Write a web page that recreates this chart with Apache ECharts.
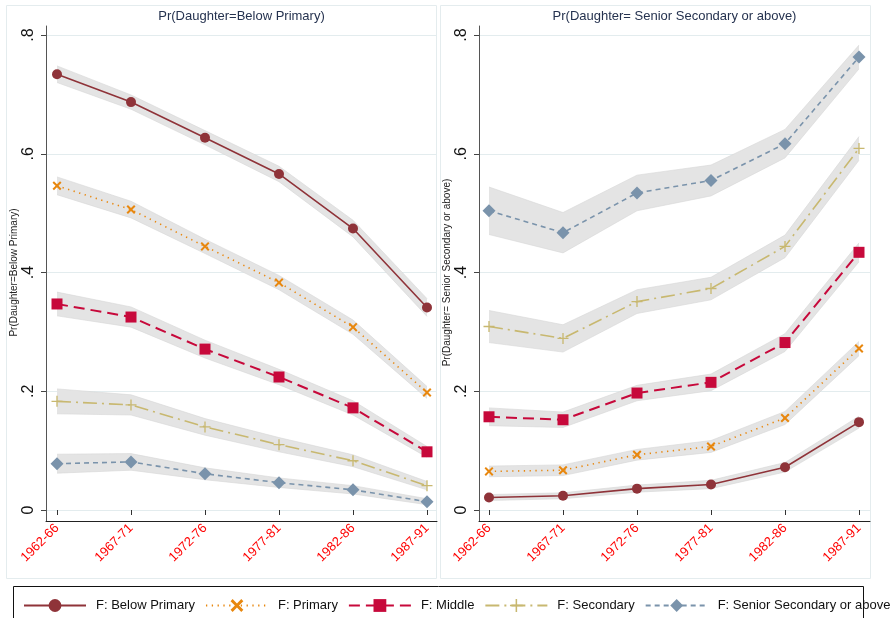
<!DOCTYPE html>
<html>
<head>
<meta charset="utf-8">
<title>Pr(Daughter) by cohort</title>
<script src="https://cdn.jsdelivr.net/npm/echarts@6/dist/echarts.min.js"></script>
<style>
  html, body { margin: 0; padding: 0; background: #ffffff; }
  #chart { width: 893px; height: 618px; }
</style>
</head>
<body>
<div id="chart"></div>
<script>
// Birth cohorts on the x axis and y tick labels
const periods = ['1962-66', '1967-71', '1972-76', '1977-81', '1982-86', '1987-91'];
const yTickLabels = ['0', '.2', '.4', '.6', '.8'];
const seriesNames = ['F: Below Primary', 'F: Primary', 'F: Middle', 'F: Secondary', 'F: Senior Secondary or above'];
const panelTitles = ['Pr(Daughter=Below Primary)', 'Pr(Daughter= Senior Secondary or above)'];

// Panel 1: Pr(Daughter=Below Primary), by father's education
const p1BelowPrimary   = [0.734, 0.687, 0.627, 0.566, 0.474, 0.341];
const p1BelowPrimaryLo = [0.720, 0.675, 0.615, 0.553, 0.460, 0.326];
const p1BelowPrimaryHi = [0.748, 0.699, 0.639, 0.579, 0.488, 0.356];
const p1Primary        = [0.546, 0.506, 0.444, 0.383, 0.308, 0.198];
const p1PrimaryLo      = [0.531, 0.492, 0.432, 0.371, 0.296, 0.188];
const p1PrimaryHi      = [0.561, 0.520, 0.456, 0.395, 0.320, 0.208];
const p1Middle         = [0.347, 0.325, 0.271, 0.224, 0.172, 0.098];
const p1MiddleLo       = [0.327, 0.308, 0.256, 0.211, 0.160, 0.089];
const p1MiddleHi       = [0.367, 0.342, 0.286, 0.237, 0.184, 0.107];
const p1Secondary      = [0.183, 0.177, 0.140, 0.110, 0.083, 0.041];
const p1SecondaryLo    = [0.162, 0.160, 0.126, 0.098, 0.073, 0.034];
const p1SecondaryHi    = [0.204, 0.194, 0.154, 0.122, 0.093, 0.048];
const p1Senior         = [0.078, 0.081, 0.061, 0.046, 0.034, 0.014];
const p1SeniorLo       = [0.062, 0.067, 0.051, 0.038, 0.027, 0.009];
const p1SeniorHi       = [0.094, 0.095, 0.071, 0.054, 0.041, 0.019];

// Panel 2: Pr(Daughter= Senior Secondary or above), by father's education
const p2BelowPrimary   = [0.021, 0.024, 0.036, 0.043, 0.072, 0.148];
const p2BelowPrimaryLo = [0.016, 0.019, 0.030, 0.036, 0.064, 0.138];
const p2BelowPrimaryHi = [0.026, 0.029, 0.042, 0.050, 0.080, 0.158];
const p2Primary        = [0.065, 0.067, 0.093, 0.107, 0.155, 0.272];
const p2PrimaryLo      = [0.056, 0.058, 0.084, 0.097, 0.144, 0.260];
const p2PrimaryHi      = [0.074, 0.076, 0.102, 0.117, 0.166, 0.284];
const p2Middle         = [0.157, 0.152, 0.197, 0.215, 0.282, 0.434];
const p2MiddleLo       = [0.142, 0.139, 0.184, 0.201, 0.267, 0.418];
const p2MiddleHi       = [0.172, 0.165, 0.210, 0.229, 0.297, 0.450];
const p2Secondary      = [0.309, 0.289, 0.351, 0.373, 0.444, 0.609];
const p2SecondaryLo    = [0.282, 0.266, 0.331, 0.354, 0.425, 0.589];
const p2SecondaryHi    = [0.336, 0.312, 0.371, 0.392, 0.463, 0.629];
const p2Senior         = [0.504, 0.467, 0.534, 0.555, 0.617, 0.763];
const p2SeniorLo       = [0.464, 0.433, 0.504, 0.529, 0.593, 0.743];
const p2SeniorHi       = [0.544, 0.501, 0.564, 0.581, 0.641, 0.783];

const panels = [
  { values: [p1BelowPrimary, p1Primary, p1Middle, p1Secondary, p1Senior],
    lo:     [p1BelowPrimaryLo, p1PrimaryLo, p1MiddleLo, p1SecondaryLo, p1SeniorLo],
    hi:     [p1BelowPrimaryHi, p1PrimaryHi, p1MiddleHi, p1SecondaryHi, p1SeniorHi] },
  { values: [p2BelowPrimary, p2Primary, p2Middle, p2Secondary, p2Senior],
    lo:     [p2BelowPrimaryLo, p2PrimaryLo, p2MiddleLo, p2SecondaryLo, p2SeniorLo],
    hi:     [p2BelowPrimaryHi, p2PrimaryHi, p2MiddleHi, p2SecondaryHi, p2SeniorHi] }
];

const FONT = '"Liberation Sans", Arial, Helvetica, sans-serif';

// Marker shapes
const X_PATH = 'path://M0,1.6 L1.6,0 L5,3.4 L8.4,0 L10,1.6 L6.6,5 L10,8.4 L8.4,10 L5,6.6 L1.6,10 L0,8.4 L3.4,5 Z';
const PLUS_PATH = 'path://M4.4,0 H5.6 V4.4 H10 V5.6 H5.6 V10 H4.4 V5.6 H0 V4.4 H4.4 Z';
const DIAMOND_PATH = 'path://M0,-1 L1,0 L0,1 L-1,0 Z';

const styles = [
  { color: '#8f3339', type: 'solid',        width: 1.6, symbol: 'circle',     size: 10 },
  { color: '#e8870e', type: [1.3, 4.5],     width: 1.6, symbol: X_PATH,       size: 9  },
  { color: '#c7093b', type: [11, 6],        width: 2.0, symbol: 'rect',       size: 11 },
  { color: '#c8b870', type: [14, 5, 2, 5],  width: 1.6, symbol: PLUS_PATH,    size: 11 },
  { color: '#7a93ab', type: [5, 4],         width: 1.6, symbol: DIAMOND_PATH, size: 13 }
];

// Panel geometry: frame grid (axis lines), label grid (y ticks + gridlines), data grid
const panelLayout = [
  { axisLeft: 46,  dataLeft: 57,  dataWidth: 370, titleX: 241.5, frameX: 6 },
  { axisLeft: 479, dataLeft: 489, dataWidth: 370, titleX: 674.5, frameX: 440 }
];
const PLOT_TOP = 35, PLOT_H = 475, PLOT_W = 391;

const grids = [], xAxes = [], yAxes = [], series = [], graphics = [];

panelLayout.forEach((L, p) => {
  // grid 3p: y labels, ticks, gridlines
  grids.push({ left: L.axisLeft, top: PLOT_TOP, width: PLOT_W, height: PLOT_H, containLabel: false });
  // grid 3p+1: data
  grids.push({ left: L.dataLeft, top: PLOT_TOP, width: L.dataWidth, height: PLOT_H, containLabel: false });
  // grid 3p+2: axis lines
  grids.push({ left: L.axisLeft, top: 26, width: PLOT_W, height: 495, containLabel: false });

  xAxes.push({ gridIndex: 3 * p, type: 'value', min: 0, max: 1, show: false });
  yAxes.push({
    gridIndex: 3 * p, type: 'value', min: 0, max: 0.8, interval: 0.2,
    name: panelTitles[p], nameLocation: 'middle', nameRotate: 90, nameGap: 27,
    nameTextStyle: { fontSize: 10, color: '#222', fontFamily: FONT },
    axisLine: { show: false },
    axisTick: { show: true, length: 5, lineStyle: { color: '#444' } },
    axisLabel: {
      rotate: 90, fontSize: 16, color: '#111', margin: 9, fontFamily: FONT,
      formatter: v => yTickLabels[Math.round(v * 5)]
    },
    splitLine: { show: true, lineStyle: { color: '#e3ecee', width: 1 } }
  });

  xAxes.push({
    gridIndex: 3 * p + 1, type: 'category', data: periods, boundaryGap: false, offset: 11,
    axisLine: { show: false },
    axisTick: { show: true, length: 5, lineStyle: { color: '#333' } },
    axisLabel: { rotate: 45, color: '#ff0000', fontSize: 13, margin: 5, fontFamily: FONT, interval: 0 },
    splitLine: { show: false }
  });
  yAxes.push({ gridIndex: 3 * p + 1, type: 'value', min: 0, max: 0.8, show: false });

  xAxes.push({
    gridIndex: 3 * p + 2, type: 'value', min: 0, max: 1,
    axisLine: { show: true, onZero: false, lineStyle: { color: '#222', width: 1 } },
    axisTick: { show: false }, axisLabel: { show: false }, splitLine: { show: false }
  });
  yAxes.push({
    gridIndex: 3 * p + 2, type: 'value', min: 0, max: 1,
    axisLine: { show: true, onZero: false, lineStyle: { color: '#555', width: 1 } },
    axisTick: { show: false }, axisLabel: { show: false }, splitLine: { show: false }
  });

  const P = panels[p];
  const ax = 3 * p + 1;

  // confidence bands as stacked areas
  for (let k = 0; k < 5; k++) {
    const stackId = 'ci-' + p + '-' + k;
    series.push({
      name: stackId + '-base', type: 'line', xAxisIndex: ax, yAxisIndex: ax,
      stack: stackId, data: P.lo[k], showSymbol: false, silent: true, z: 1,
      lineStyle: { color: '#d6d6d6', width: 0.6 }
    });
    series.push({
      name: stackId + '-width', type: 'line', xAxisIndex: ax, yAxisIndex: ax,
      stack: stackId, data: P.hi[k].map((h, i) => h - P.lo[k][i]), showSymbol: false, silent: true, z: 1,
      lineStyle: { color: '#d6d6d6', width: 0.6 },
      areaStyle: { color: '#e4e4e4', opacity: 1 }
    });
  }

  // point estimates
  for (let k = 0; k < 5; k++) {
    const s = styles[k];
    series.push({
      name: seriesNames[k], type: 'line', xAxisIndex: ax, yAxisIndex: ax,
      data: P.values[k], z: 3,
      symbol: s.symbol, symbolSize: s.size, showSymbol: true,
      lineStyle: { color: s.color, type: s.type, width: s.width, cap: 'butt' },
      itemStyle: { color: s.color, borderWidth: 0 }
    });
  }

  // panel frame and title
  graphics.push({
    type: 'rect', silent: true, z: -1,
    shape: { x: L.frameX + 0.5, y: 5.5, width: 430, height: 573 },
    style: { fill: 'none', stroke: '#e4ecee', lineWidth: 1 }
  });
  graphics.push({
    type: 'text', silent: true, x: L.titleX, y: 16,
    style: {
      text: panelTitles[p], fontSize: 13, fontFamily: FONT, fill: '#25324f',
      align: 'center', verticalAlign: 'middle'
    }
  });
});

// legend frame
graphics.push({
  type: 'rect', silent: true, z: -1,
  shape: { x: 13.5, y: 586.5, width: 850, height: 40 },
  style: { fill: 'none', stroke: '#111', lineWidth: 1 }
});

const option = {
  animation: false,
  backgroundColor: '#ffffff',
  textStyle: { fontFamily: FONT },
  grid: grids,
  xAxis: xAxes,
  yAxis: yAxes,
  legend: {
    data: seriesNames, left: 23, top: 599, width: 880, padding: 0,
    itemWidth: 62, itemHeight: 16, itemGap: 10, selectedMode: false,
    textStyle: { fontSize: 13, color: '#111', fontFamily: FONT, padding: [0, 0, 0, 5] }
  },
  graphic: graphics,
  series: series
};

const chart = echarts.init(document.getElementById('chart'), null, { renderer: 'canvas' });
chart.setOption(option);
</script>
</body>
</html>
